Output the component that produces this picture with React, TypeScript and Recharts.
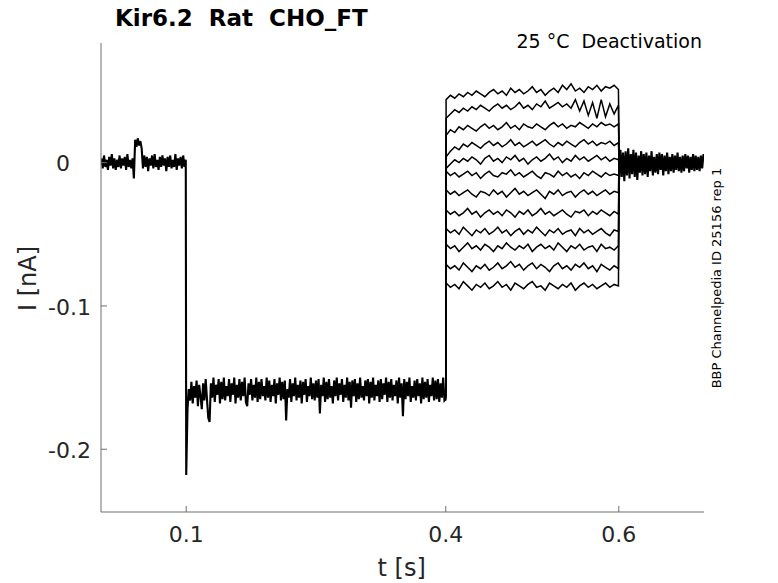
import React from 'react';
import { LineChart, Line, XAxis, YAxis } from 'recharts';

// sampling of the recorded sweeps (s)
const DT = 0.0015;
const PRE_START = 0.002;
const HOLD_START = 0.1;
const POST_START = 0.6004;
const STEP_ON = 0.4;
const STEP_OFF = 0.6004;
const STEP_T0 = 0.4004;
const STEP_DT = 0.00498;

const X_TICKS = [0.1, 0.4, 0.6];
const Y_TICKS = [-200, -100, 0]; // pA, shown in nA

// current before the holding step (pA)
const preValues = [
  3, -4, 5, -3, 2, -5, 4, -2, 6, -4, 3, -5, 2, -3, 5, -4, 3, -2, 4, -5, 6, -3, 2, -4, 3,
  -11, 16, 11, 17, 12, 15, 10,
  -4, 5, -3, 4, -6, 3, -2, 5, -4, 6, -3, 2, -5, 4, -3, 5, -2, 3, -6, 4,
  -3, 5, -4, 2, -3, 6, -5, 3, -2, 4, -4, 5, -3, 2,
];

// holding step 0.1 - 0.4 s (pA)
const holdValues = [
  -218, -172, -158, -166, -153, -168, -156, -164, -152, -170, -155, -163, -172, -154, -166, -151, -165, -178, -181, -154,
  -164, -150, -167, -155, -162, -151, -168, -153, -165, -150, -166, -156, -163, -151, -167, -154, -162, -150, -168, -155,
  -164, -151, -166, -153, -163, -150, -167, -170, -154, -162, -151, -166, -155, -164, -150, -167, -153, -165, -151, -163,
  -156, -166, -150, -164, -152, -167, -155, -163, -151, -168, -154, -162, -150, -166, -153, -165, -152, -180, -158, -164,
  -151, -167, -154, -163, -150, -166, -155, -164, -152, -168, -153, -162, -151, -167, -156, -163, -150, -165, -154, -166,
  -152, -164, -151, -175, -155, -163, -150, -167, -153, -165, -151, -164, -156, -168, -152, -163, -150, -166, -154, -162,
  -151, -167, -155, -164, -150, -166, -153, -171, -152, -163, -151, -167, -154, -165, -150, -164, -156, -166, -152, -163,
  -151, -168, -153, -164, -150, -166, -155, -163, -152, -167, -151, -165, -154, -162, -150, -167, -153, -164, -151, -166,
  -155, -163, -152, -168, -150, -164, -154, -177, -151, -165, -153, -163, -150, -167, -156, -164, -152, -166, -151, -163,
  -154, -168, -150, -165, -153, -164, -151, -167, -155, -163, -150, -166, -152, -165, -151, -167, -154, -164, -150, -166, -165,
];

// after the test pulses (pA)
const postValues = [
  -12, 9, -10, 7, -13, 8, -9, 10, -11, 6, -8, 9, -10, 7, -12, 5, -7, 8, -9, 6,
  -8, 7, -10, 5, -6, 8, -9, 4, -7, 6, -8, 7, -5, 6, -9, 5, -6, 7, -8, 4,
  -6, 6, -7, 5, -5, 7, -6, 4, -7, 5, -6, 6, -4, 5, -7, 4, -5, 6, -6, 5,
  -5, 4, -6, 5, -4, 6,
];

// test pulses 0.4 - 0.6 s: [holding, 41 samples, after] (pA)
const sweep1 = [-161, 44, 47, 45, 48, 46, 49, 47, 50, 48, 46, 49, 51, 48, 50, 47, 52, 49, 51, 48, 50, 53, 49, 51, 47, 50, 52, 49, 54, 51, 55, 50, 52, 49, 53, 51, 54, 50, 53, 52, 54, 51, 2];
const sweep2 = [-163, 31, 34, 37, 35, 38, 36, 39, 37, 40, 38, 36, 39, 41, 38, 40, 37, 39, 42, 38, 40, 37, 41, 39, 43, 38, 40, 42, 39, 41, 38, 44, 36, 43, 33, 42, 31, 44, 32, 41, 34, 40, -3];
const sweep3 = [-158, 19, 23, 21, 25, 23, 26, 24, 22, 25, 27, 24, 26, 23, 25, 28, 24, 26, 23, 27, 25, 24, 27, 25, 23, 26, 28, 25, 27, 24, 26, 25, 28, 26, 24, 27, 25, 28, 26, 27, 25, 27, 4];
const sweep4 = [-165, 4, 8, 11, 9, 13, 11, 14, 12, 10, 13, 15, 12, 14, 11, 13, 16, 12, 14, 11, 13, 15, 12, 14, 16, 13, 11, 14, 12, 15, 13, 11, 14, 16, 13, 15, 12, 14, 13, 15, 12, 14, -2];
const sweep5 = [-156, -4, -1, 2, 0, 3, 1, 4, 2, -1, 3, 5, 1, 3, 0, 4, 2, 5, 1, 3, -1, 2, 4, 1, 3, 6, 2, 4, 0, 3, 1, 5, 2, 4, 1, 3, 5, 2, 4, 1, 3, 2, 6];
const sweep6 = [-162, -6, -9, -7, -10, -8, -6, -9, -7, -11, -8, -6, -9, -10, -7, -8, -5, -9, -7, -10, -8, -6, -9, -11, -7, -8, -10, -6, -9, -7, -10, -8, -11, -7, -9, -6, -8, -10, -7, -9, -8, -9, -5];
const sweep7 = [-159, -19, -22, -20, -23, -21, -19, -22, -24, -20, -21, -23, -19, -22, -20, -24, -21, -18, -22, -20, -23, -21, -19, -22, -25, -20, -22, -19, -23, -21, -20, -24, -21, -19, -22, -20, -23, -21, -19, -22, -20, -21, 3];
const sweep8 = [-164, -33, -36, -34, -37, -35, -32, -36, -34, -38, -35, -33, -36, -34, -37, -33, -35, -38, -34, -36, -33, -37, -35, -32, -36, -34, -37, -35, -33, -36, -38, -34, -35, -33, -37, -34, -36, -33, -35, -37, -34, -36, -1];
const sweep9 = [-157, -46, -49, -47, -50, -45, -48, -51, -47, -49, -46, -50, -48, -45, -49, -47, -51, -48, -46, -50, -47, -49, -45, -48, -51, -47, -49, -46, -50, -48, -47, -51, -46, -49, -47, -50, -48, -46, -49, -51, -47, -48, 5];
const sweep10 = [-163, -57, -60, -58, -62, -59, -56, -60, -58, -61, -57, -59, -62, -58, -60, -56, -59, -61, -58, -60, -57, -62, -59, -57, -60, -58, -61, -56, -59, -62, -58, -60, -57, -61, -59, -58, -62, -57, -60, -59, -61, -58, -4];
const sweep11 = [-158, -71, -74, -72, -75, -70, -73, -76, -72, -74, -71, -75, -73, -70, -74, -72, -69, -73, -71, -75, -72, -70, -74, -71, -73, -76, -72, -70, -74, -72, -75, -71, -73, -70, -74, -72, -76, -71, -73, -75, -72, -74, 1];
const sweep12 = [-166, -84, -87, -85, -88, -83, -86, -89, -85, -87, -84, -88, -86, -83, -87, -85, -89, -84, -86, -88, -85, -83, -87, -86, -89, -84, -86, -88, -85, -87, -84, -89, -86, -84, -87, -85, -88, -86, -84, -87, -85, -86, -6];

const sweeps = [sweep1, sweep2, sweep3, sweep4, sweep5, sweep6, sweep7, sweep8, sweep9, sweep10, sweep11, sweep12];

const FONT = 'DejaVu Sans';
const INK = '#262626';

const sampled = (start: number, values: number[]) =>
  values.map((v, i) => ({ t: start + i * DT, v }));

const baseline = [...sampled(PRE_START, preValues), ...sampled(HOLD_START, holdValues)];
const tail = sampled(POST_START, postValues);

const sweepData = (values: number[]) =>
  values.map((v, i) => ({
    t: i === 0 ? STEP_ON : i === values.length - 1 ? STEP_OFF : STEP_T0 + (i - 1) * STEP_DT,
    v,
  }));

const YTick = (props: any) => {
  const { x, y, payload } = props;
  // MATLAB lines the zero up with the decimals of the other labels
  const dx = payload.value === 0 ? -21 : 0;
  return (
    <text x={x + dx} y={y} dy="0.4em" textAnchor="end" fontSize={22} fill={INK} fontFamily={FONT}>
      {String(payload.value / 1000)}
    </text>
  );
};

export default function App() {
  return (
    <div style={{ position: 'absolute', left: 0, top: 0, width: 778, height: 583, background: '#fff' }}>
      <LineChart width={778} height={583} margin={{ top: 43, right: 74, bottom: 41, left: 41 }}>
        <XAxis
          type="number"
          dataKey="t"
          domain={[0.0015, 0.6985]}
          ticks={X_TICKS}
          allowDataOverflow
          height={30}
          stroke="#6e6e6e"
          tickSize={-6}
          tickMargin={20}
          tick={{ fontSize: 22, fill: INK, fontFamily: FONT }}
        />
        <YAxis
          type="number"
          domain={[-243.8, 83.5]}
          ticks={Y_TICKS}
          allowDataOverflow
          width={60}
          stroke="#6e6e6e"
          tickSize={-6}
          tickMargin={16}
          tick={<YTick />}
        />
        <Line data={baseline} dataKey="v" stroke="#000" strokeWidth={2.1} dot={false} isAnimationActive={false} />
        {sweeps.map((s, i) => (
          <Line key={i} data={sweepData(s)} dataKey="v" stroke="#000" strokeWidth={1.5} dot={false} isAnimationActive={false} />
        ))}
        <Line data={tail} dataKey="v" stroke="#000" strokeWidth={2.1} dot={false} isAnimationActive={false} />
      </LineChart>
      <svg width={778} height={583} style={{ position: 'absolute', left: 0, top: 0, pointerEvents: 'none' }}>
        <text x={115} y={26} fontSize={23} fontWeight="bold" fill="#000" fontFamily={FONT} style={{ whiteSpace: 'pre' }}>
          Kir6.2  Rat  CHO_FT
        </text>
        <text x={702} y={47.5} fontSize={19} textAnchor="end" fill="#000" fontFamily={FONT} style={{ whiteSpace: 'pre' }}>
          25 °C  Deactivation
        </text>
        <text x={401.7} y={576} fontSize={24} textAnchor="middle" fill={INK} fontFamily={FONT}>
          t [s]
        </text>
        <text x={35.5} y={278.5} fontSize={24} textAnchor="middle" fill={INK} fontFamily={FONT} transform="rotate(-90 35.5 278.5)">
          I [nA]
        </text>
        <text x={720.5} y={278} fontSize={13} textAnchor="middle" fill="#000" fontFamily={FONT} transform="rotate(-90 720.5 278)">
          BBP Channelpedia ID 25156 rep 1
        </text>
      </svg>
    </div>
  );
}
